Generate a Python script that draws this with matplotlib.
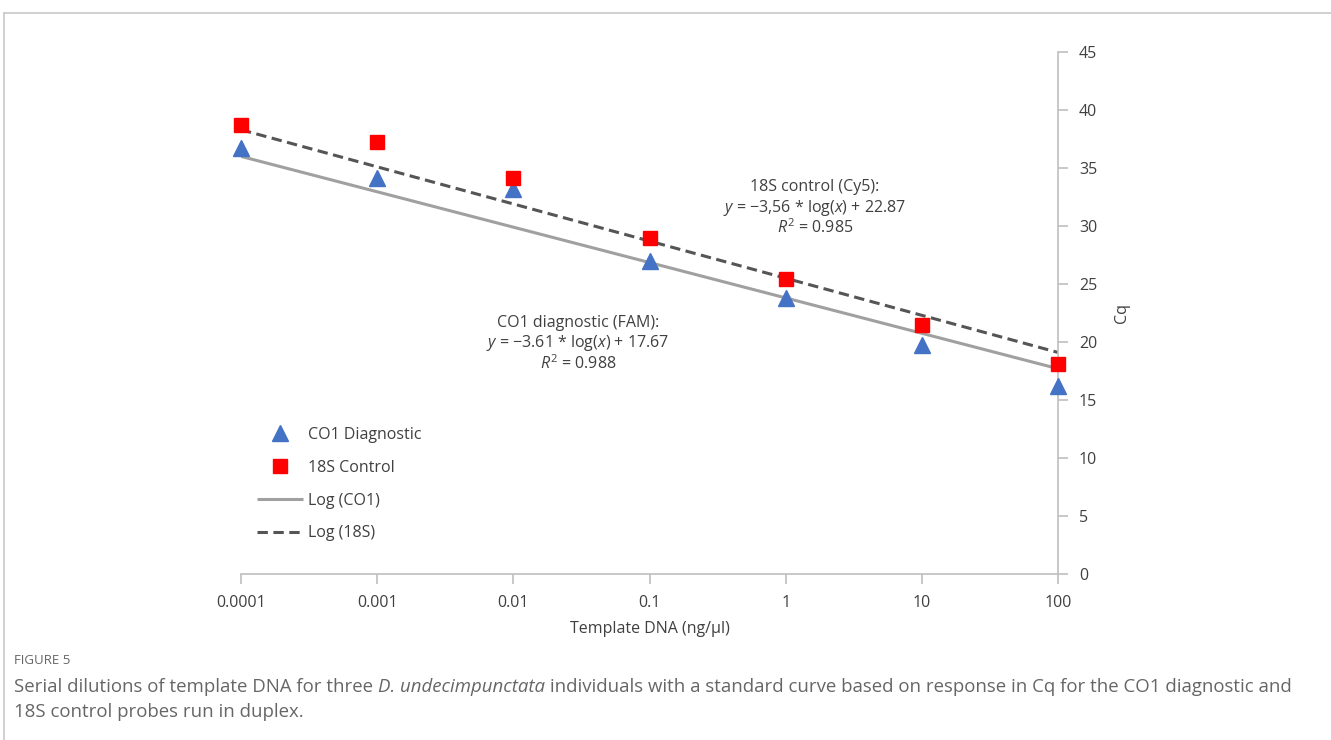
"""Standard curve for CO1 diagnostic / 18S control duplex qPCR (Figure 5)."""

import matplotlib

matplotlib.use("Agg")
import matplotlib.pyplot as plt
from matplotlib.lines import Line2D
import numpy as np

template_dna = [0.0001, 0.001, 0.01, 0.1, 1, 10, 100]
x_tick_labels = ["0.0001", "0.001", "0.01", "0.1", "1", "10", "100"]
cq_co1 = [36.7, 34.1, 33.2, 27.0, 23.8, 19.7, 16.2]
cq_18s = [38.7, 37.2, 34.1, 29.0, 25.4, 21.5, 18.1]

# trendline coefficients as drawn: Cq = slope * log10(x) + intercept
fit_co1 = (-3.05, 23.8)
fit_18s = (-3.20, 25.5)

y_ticks = [0, 5, 10, 15, 20, 25, 30, 35, 40, 45]

TEXT = "#404040"
AXIS = "#bfbfbf"
CAPTION = "#666666"
FONT = "Open Sans"
MINUS = "\u2212"

plt.rcParams["font.family"] = [FONT, "DejaVu Sans"]
plt.rcParams["mathtext.fontset"] = "custom"
plt.rcParams["mathtext.rm"] = FONT
plt.rcParams["mathtext.it"] = f"{FONT}:italic"

fig = plt.figure(figsize=(13.31, 7.40), dpi=100)
ax = fig.add_axes([241 / 1331, 1 - 574 / 740, (1058 - 241) / 1331, (574 - 52) / 740])

ax.set_xscale("log")
ax.set_xlim(template_dna[0], template_dna[-1])
ax.set_ylim(y_ticks[0], y_ticks[-1])

xs = np.array([template_dna[0], template_dna[-1]])
ax.plot(xs, fit_co1[0] * np.log10(xs) + fit_co1[1], color="#a0a0a0", lw=2.2,
        solid_capstyle="butt", label="Log (CO1)", zorder=2)
ax.plot(xs, fit_18s[0] * np.log10(xs) + fit_18s[1], color="#555555", lw=2.2,
        dashes=(3.4, 1.8), label="Log (18S)", zorder=2)
ax.plot(template_dna, cq_co1, ls="none", marker="^", ms=11, color="#4472c4",
        clip_on=False, label="CO1 Diagnostic", zorder=3)
ax.plot(template_dna, cq_18s, ls="none", marker="s", ms=9.5, color="#ff0000",
        clip_on=False, label="18S Control", zorder=3)

for side in ("top", "left"):
    ax.spines[side].set_visible(False)
for side in ("bottom", "right"):
    ax.spines[side].set_color(AXIS)
    ax.spines[side].set_linewidth(1.2)

ax.yaxis.tick_right()
ax.yaxis.set_label_position("right")
ax.set_yticks(y_ticks)
ax.set_xticks(template_dna)
ax.set_xticklabels(x_tick_labels)
ax.minorticks_off()
ax.tick_params(axis="both", colors=AXIS, labelcolor=TEXT, labelsize=11.5,
               length=7, width=1.2, direction="out")
ax.tick_params(axis="x", pad=8)
ax.tick_params(axis="y", pad=8)
ax.set_xlabel("Template DNA (ng/\u00b5l)", color=TEXT, fontsize=11.5, labelpad=7)
ax.set_ylabel("Cq", color=TEXT, fontsize=11.5, labelpad=12)

# equation labels, centred where they sit in the figure
ann = dict(ha="center", va="center", color=TEXT, fontsize=11.5)
cx_18s = 10 ** (np.log10(0.0001) + (815 - 241) / (1058 - 241) * 6)
cx_co1 = 10 ** (np.log10(0.0001) + (578 - 241) / (1058 - 241) * 6)
ax.text(cx_18s, (574 - 187) / 11.6, "18S control (Cy5):", **ann)
ax.text(cx_18s, (574 - 208) / 11.6, r"$\it{y}$ = " + MINUS + r"3,56 * log($\it{x}$) + 22.87", **ann)
ax.text(cx_18s, (574 - 228) / 11.6, r"$\it{R}^{2}$ = 0.985", **ann)
ax.text(cx_co1, (574 - 323) / 11.6, "CO1 diagnostic (FAM):", **ann)
ax.text(cx_co1, (574 - 343) / 11.6, r"$\it{y}$ = " + MINUS + r"3.61 * log($\it{x}$) + 17.67", **ann)
ax.text(cx_co1, (574 - 364) / 11.6, r"$\it{R}^{2}$ = 0.988", **ann)

handles, labels = ax.get_legend_handles_labels()
order = [2, 3, 0, 1]
leg = ax.legend([handles[i] for i in order], [labels[i] for i in order],
                loc="upper left", bbox_to_anchor=(257 / 1331, 1 - 427 / 740),
                bbox_transform=fig.transFigure, frameon=False, fontsize=11.5,
                handlelength=2.9, handletextpad=0.3, labelspacing=1.05,
                borderpad=0, borderaxespad=0)
for t in leg.get_texts():
    t.set_color(TEXT)

# card frame and caption
fig.add_artist(Line2D([4 / 1331, 1], [1 - 13 / 740] * 2, color="#c8c8c8", lw=1.2))
fig.add_artist(Line2D([4 / 1331] * 2, [0, 1 - 13 / 740], color="#c8c8c8", lw=1.2))
fig.text(14 / 1331, 1 - 660 / 740, "FIGURE 5", color=CAPTION, fontsize=9.5,
         va="center", ha="left")

caption_parts = [
    ("Serial dilutions of template DNA for three ", "normal"),
    ("D. undecimpunctata", "italic"),
    (" individuals with a standard curve based on response in Cq for the CO1 diagnostic and",
     "normal"),
]
renderer = fig.canvas.get_renderer()
x_px = 14.0
for part, style in caption_parts:
    t = fig.text(x_px / 1331, 1 - 687 / 740, part, color=CAPTION, fontsize=13.4,
                 style=style, va="center", ha="left")
    x_px = t.get_window_extent(renderer).x1
fig.text(14 / 1331, 1 - 712 / 740, "18S control probes run in duplex.",
         color=CAPTION, fontsize=13.4, va="center", ha="left")

fig.savefig("out.png", dpi=100)
